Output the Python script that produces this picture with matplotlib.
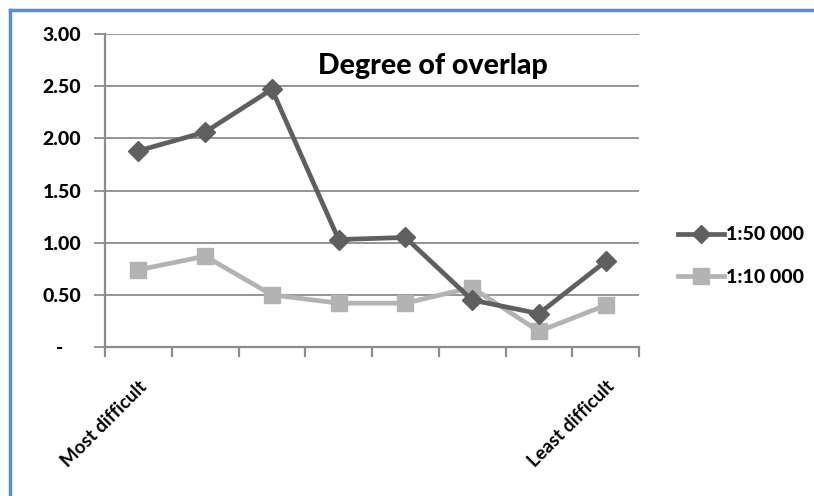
import matplotlib
matplotlib.use("Agg")
import matplotlib.pyplot as plt
from matplotlib.lines import Line2D

categories = ["Most difficult", "", "", "", "", "", "", "Least difficult"]
series_names = ["1:50 000", "1:10 000"]
values_50k = [1.88, 2.06, 2.47, 1.03, 1.05, 0.45, 0.32, 0.82]
values_10k = [0.74, 0.87, 0.50, 0.42, 0.42, 0.57, 0.15, 0.40]
y_ticks = [0, 0.5, 1.0, 1.5, 2.0, 2.5, 3.0]
y_tick_labels = ["-    ", "0.50", "1.00", "1.50", "2.00", "2.50", "3.00"]
title = "Degree of overlap"

fam = ["Lato", "DejaVu Sans"]
plt.rcParams["font.family"] = fam

fig = plt.figure(figsize=(8.14, 4.96), dpi=100)
ax = fig.add_axes([105/814, 1-347/496, (639-105)/814, (347-34)/496])

n = len(categories)
xs = [i + 0.5 for i in range(n)]
c50 = "#5f5f5f"
c10 = "#b3b3b3"
ax.plot(xs, values_50k, color=c50, lw=3.4, marker="D", ms=10, mfc=c50, mec=c50, zorder=3)
ax.plot(xs, values_10k, color=c10, lw=3.4, marker="s", ms=12, mfc=c10, mec=c10, zorder=2)

ax.set_xlim(0, n)
ax.set_ylim(0, 3.0)
grid_c = "#8c8c8c"
ax.set_yticks(y_ticks)
ax.set_yticklabels(y_tick_labels, fontsize=14, fontweight="black")
for y in y_ticks[1:]:
    ax.axhline(y, color=grid_c, lw=1.3, zorder=1)
ax.set_xticks(range(n + 1))
ax.set_xticklabels([])
ax.set_xticks(xs, minor=True)
ax.set_xticklabels(categories, minor=True, rotation=45, ha="right", va="top",
                   rotation_mode="anchor", fontsize=13.5, fontweight="bold")
ax.tick_params(axis="x", which="minor", length=0, pad=22)
ax.tick_params(axis="x", which="major", length=7, width=1.6, color=grid_c)
ax.tick_params(axis="y", length=8, width=1.3, color=grid_c, pad=9)
for s in ["top", "right"]:
    ax.spines[s].set_visible(False)
for s in ["left", "bottom"]:
    ax.spines[s].set_color(grid_c)
    ax.spines[s].set_linewidth(1.6)

fig.text(433/814, 1-66/496, title, ha="center", va="center", fontsize=20.5, fontweight="black")

handles = [Line2D([], [], color=c50, lw=3.4, marker="D", ms=9),
           Line2D([], [], color=c10, lw=3.4, marker="s", ms=11)]
fig.legend(handles, series_names, loc="center left", bbox_to_anchor=(660/814, 1-256/496),
           frameon=False, prop={"weight": "black", "size": 14},
           handlelength=2.4, handletextpad=0.1, labelspacing=1.3)

# outer blue frame (partially visible)
fig.add_artist(Line2D([10/814, 1], [1-10/496, 1-10/496], color="#5b8bd0", lw=2.5))
fig.add_artist(Line2D([10/814, 10/814], [0, 1-10/496], color="#5b8bd0", lw=2.5))

fig.savefig("out.png", dpi=100)
